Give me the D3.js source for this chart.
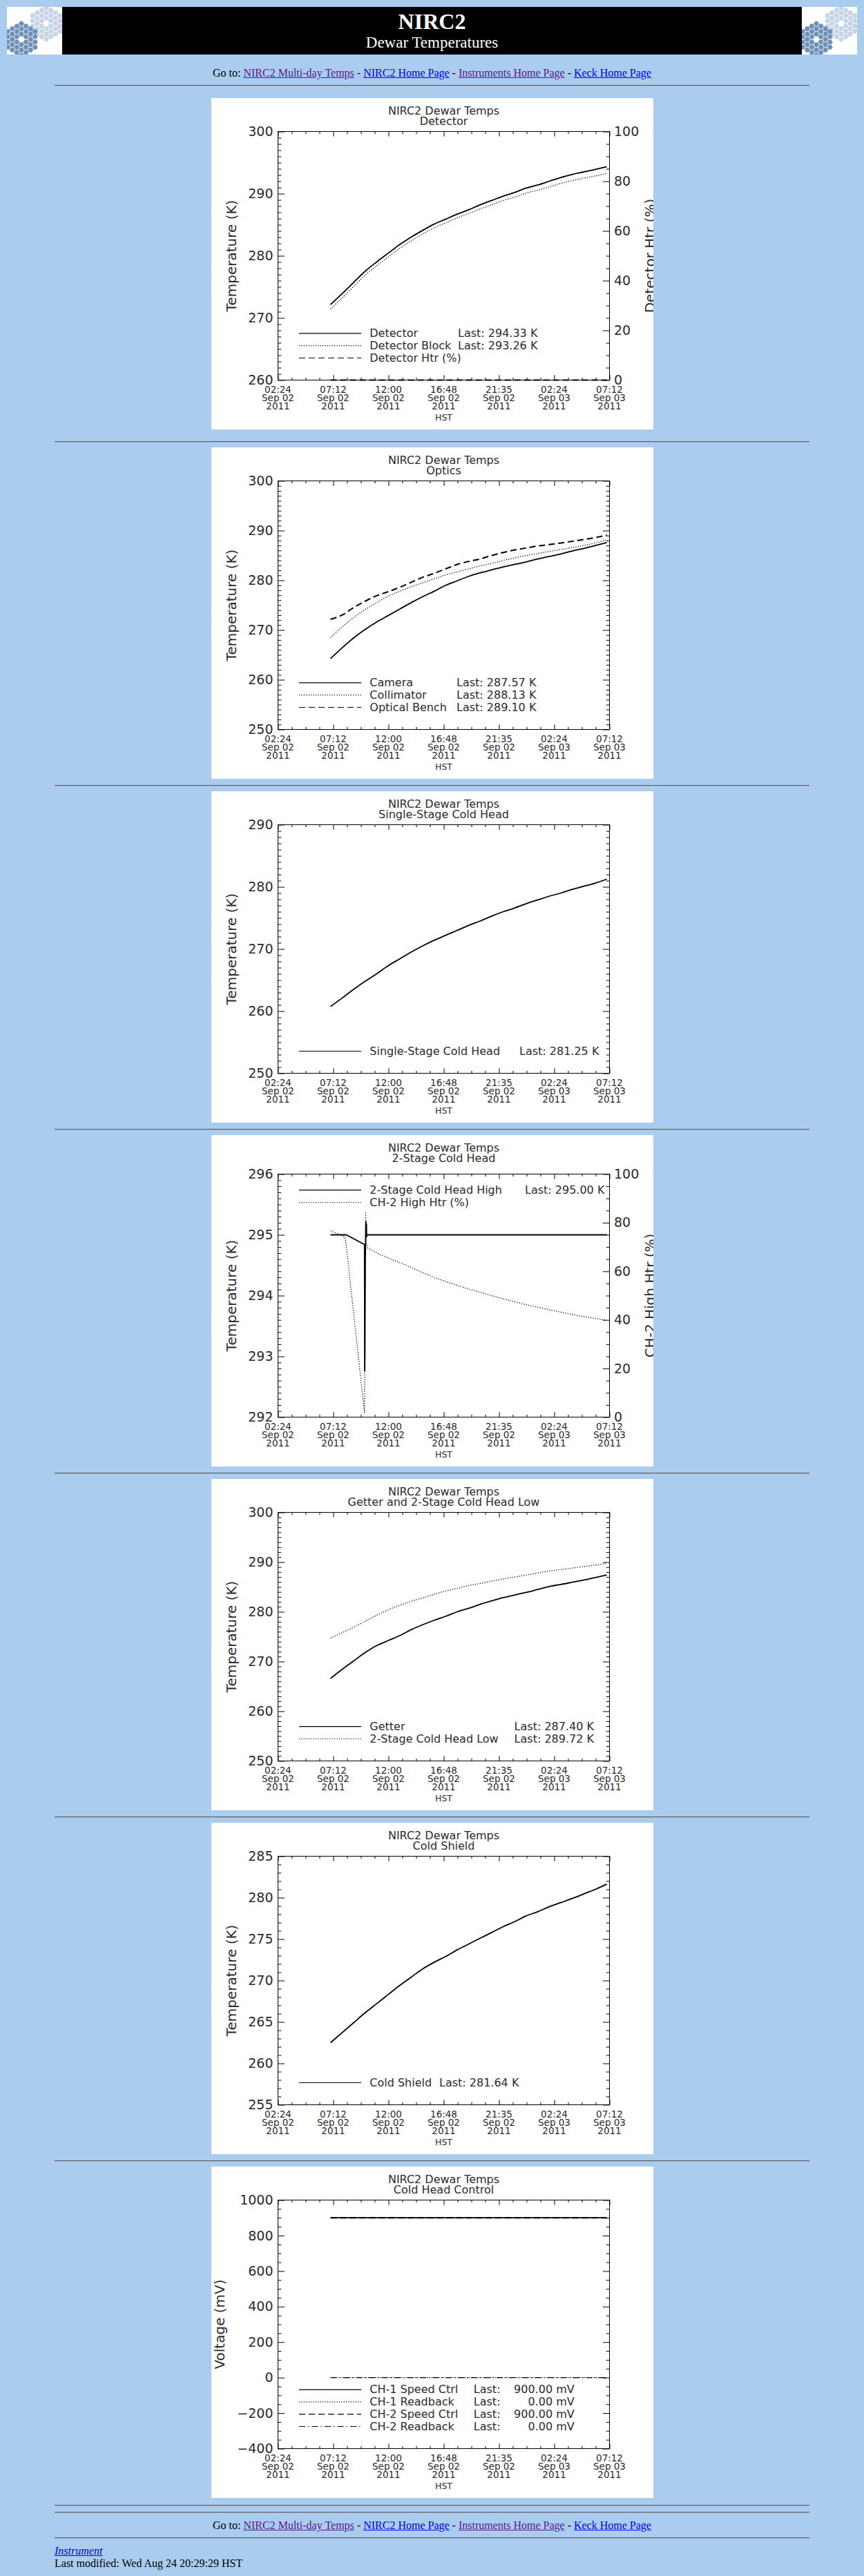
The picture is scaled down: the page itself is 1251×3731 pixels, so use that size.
<!DOCTYPE html>
<html lang="en">
<head>
<meta charset="utf-8">
<title>NIRC2 Dewar Temperatures</title>
<script src="https://cdn.jsdelivr.net/npm/d3@7"></script>
<style>
  body { margin: 0; background: #aaccee; font-family: "Liberation Serif", "Times New Roman", serif; font-size: 16px; color: #000; }
  #header { display: flex; height: 69px; margin: 10px 10px 0; }
  .logo { flex: none; width: 80px; height: 69px; }
  .logo svg { display: block; }
  #banner { flex: 1; background: #000; color: #fff; position: relative; text-align: center; }
  #banner .t1 { position: absolute; left: 0; right: 0; top: 4.9px; font: bold 32px/32px "Liberation Serif", serif; }
  #banner .t2 { position: absolute; left: 0; right: 0; top: 39.7px; font: 23px/23px "Liberation Serif", serif; }
  .goto { margin: 0; text-align: center; line-height: 18px; }
  a { color: #0000ee; }
  a.seen { color: #551a8b; }
  hr { width: 1093px; height: 0; border: 0; border-top: 1px solid #5b5b5b; border-bottom: 1px solid #a3b6cb; margin: 0 auto; }
  .panel { width: 640px; height: 480px; margin: 0 auto; }
  .panel svg { display: block; background: #fff; overflow: hidden; }
  .panel svg text { fill: #2b2b2b; }
  #footer { width: 1093px; margin: 0 auto; line-height: 18px; }
</style>
</head>
<body>
<div id="header">
  <div class="logo" id="logoL"></div>
  <div id="banner"><div class="t1">NIRC2</div><div class="t2">Dewar Temperatures</div></div>
  <div class="logo" id="logoR"></div>
</div>
<p class="goto" style="margin-top:18.3px">Go to: <a class="seen" href="#">NIRC2 Multi-day Temps</a> - <a href="#">NIRC2 Home Page</a> - <a class="seen" href="#">Instruments Home Page</a> - <a href="#">Keck Home Page</a></p>
<hr style="margin-top:8.2px">
<div class="panel" id="c1" style="margin-top:16.2px"></div>
<hr style="margin-top:17px">
<div class="panel" id="c2" style="margin-top:7.6px"></div>
<hr style="margin-top:9px">
<div class="panel" id="c3" style="margin-top:7px"></div>
<hr style="margin-top:9px">
<div class="panel" id="c4" style="margin-top:7px"></div>
<hr style="margin-top:9px">
<div class="panel" id="c5" style="margin-top:7px"></div>
<hr style="margin-top:9px">
<div class="panel" id="c6" style="margin-top:7px"></div>
<hr style="margin-top:9px">
<div class="panel" id="c7" style="margin-top:7px"></div>
<hr style="margin-top:9.4px">
<hr style="margin-top:8px">
<p class="goto" style="margin-top:9.2px">Go to: <a class="seen" href="#">NIRC2 Multi-day Temps</a> - <a href="#">NIRC2 Home Page</a> - <a class="seen" href="#">Instruments Home Page</a> - <a href="#">Keck Home Page</a></p>
<hr style="margin-top:8.1px">
<div id="footer" style="margin-top:8.6px"><a href="#"><i>Instrument</i></a><br>Last modified: Wed Aug 24 20:29:29 HST</div>

<script>
// ---- data -------------------------------------------------------------
const xDomain = ["2011-09-02 02:24", "2011-09-03 07:12"];
const xTickTimes = ["2011-09-02 02:24", "2011-09-02 07:12", "2011-09-02 12:00", "2011-09-02 16:48",
                    "2011-09-02 21:36", "2011-09-03 02:24", "2011-09-03 07:12"];
const xTickLabels = [["02:24", "Sep 02", "2011"], ["07:12", "Sep 02", "2011"], ["12:00", "Sep 02", "2011"],
                     ["16:48", "Sep 02", "2011"], ["21:35", "Sep 02", "2011"], ["02:24", "Sep 03", "2011"],
                     ["07:12", "Sep 03", "2011"]];

const hourTimes = ["2011-09-02 06:58", "2011-09-02 07:58", "2011-09-02 08:58", "2011-09-02 09:58",
                   "2011-09-02 10:58", "2011-09-02 11:58", "2011-09-02 12:58", "2011-09-02 13:58",
                   "2011-09-02 14:58", "2011-09-02 15:58", "2011-09-02 16:58", "2011-09-02 17:58",
                   "2011-09-02 18:58", "2011-09-02 19:58", "2011-09-02 20:58", "2011-09-02 21:58",
                   "2011-09-02 22:58", "2011-09-02 23:58", "2011-09-03 00:58", "2011-09-03 01:58",
                   "2011-09-03 02:58", "2011-09-03 03:58", "2011-09-03 04:58", "2011-09-03 05:58",
                   "2011-09-03 06:58"];
const spanTimes = ["2011-09-02 06:58", "2011-09-03 06:58"];

const detector      = [272.15, 273.9, 275.7, 277.5, 279.0, 280.4, 281.8, 283.0, 284.1, 285.1, 285.9, 286.7, 287.4,
                       288.2, 288.9, 289.6, 290.2, 290.9, 291.4, 292.0, 292.6, 293.1, 293.5, 293.9, 294.33];
const detectorBlock = [271.4, 273.2, 275.05, 276.9, 278.4, 279.8, 281.2, 282.4, 283.5, 284.5, 285.3, 286.1, 286.8,
                       287.55, 288.2, 288.9, 289.45, 290.1, 290.55, 291.1, 291.65, 292.1, 292.5, 292.85, 293.26];
const detectorHtr   = [0, 0];

const camera       = [264.25, 266.4, 268.4, 270.1, 271.6, 272.9, 274.2, 275.5, 276.7, 277.8, 279.0, 279.9, 280.8,
                      281.5, 282.1, 282.7, 283.2, 283.7, 284.3, 284.8, 285.3, 285.9, 286.4, 287.0, 287.57];
const collimator   = [268.5, 270.6, 272.5, 274.1, 275.5, 276.8, 277.8, 278.7, 279.5, 280.3, 281.1, 281.7, 282.3,
                      282.9, 283.4, 284.0, 284.5, 285.0, 285.4, 285.8, 286.2, 286.6, 287.0, 287.5, 288.13];
const opticalBench = [272.15, 273.0, 274.5, 275.8, 276.9, 277.7, 278.6, 279.6, 280.6, 281.4, 282.3, 283.2, 283.8,
                      284.3, 285.0, 285.6, 286.1, 286.5, 286.9, 287.2, 287.5, 287.85, 288.2, 288.6, 289.10];

const singleStage = [260.75, 262.1, 263.5, 264.8, 266.0, 267.3, 268.4, 269.5, 270.5, 271.4, 272.2, 273.0, 273.8,
                     274.5, 275.3, 276.0, 276.6, 277.3, 277.9, 278.5, 279.0, 279.6, 280.1, 280.6, 281.25];

const twoStageHighTimes = ["2011-09-02 06:58", "2011-09-02 08:20", "2011-09-02 09:55", "2011-09-02 09:56",
                           "2011-09-02 09:57", "2011-09-02 09:59", "2011-09-02 10:00", "2011-09-02 10:02",
                           "2011-09-02 10:03", "2011-09-02 10:05", "2011-09-02 10:06", "2011-09-02 10:09",
                           "2011-09-03 06:58"];
const twoStageHigh = [295.00, 295.00, 294.84, 292.76, 293.00, 294.65, 294.68, 295.22, 295.05, 295.18, 294.97,
                      295.00, 295.00];
const ch2HtrTimes = ["2011-09-02 06:58", "2011-09-02 08:15", "2011-09-02 09:55", "2011-09-02 10:01",
                     "2011-09-02 10:04", "2011-09-02 10:12", "2011-09-02 11:13", "2011-09-02 12:28",
                     "2011-09-02 13:43", "2011-09-02 14:57", "2011-09-02 16:12", "2011-09-02 17:26",
                     "2011-09-02 18:41", "2011-09-02 19:56", "2011-09-02 21:10", "2011-09-02 22:25",
                     "2011-09-02 23:40", "2011-09-03 00:54", "2011-09-03 02:09", "2011-09-03 03:23",
                     "2011-09-03 04:38", "2011-09-03 05:53", "2011-09-03 06:58"];
const ch2Htr = [76.7, 74.0, 1.8, 84.0, 72.0, 69.6, 67.0, 64.5, 62.1, 59.5, 57.1, 55.0, 53.1, 51.4, 49.7, 48.1,
                46.6, 45.3, 44.0, 42.8, 41.6, 40.7, 39.8];

const getter      = [266.6, 268.4, 270.1, 271.8, 273.2, 274.2, 275.2, 276.4, 277.4, 278.3, 279.1, 280.0, 280.7,
                     281.5, 282.2, 282.85, 283.4, 283.9, 284.5, 285.1, 285.5, 285.95, 286.4, 286.9, 287.40];
const twoStageLow = [274.75, 275.8, 276.9, 278.1, 279.3, 280.4, 281.3, 282.1, 282.8, 283.5, 284.2, 284.7, 285.3,
                     285.7, 286.2, 286.6, 287.0, 287.4, 287.8, 288.2, 288.5, 288.8, 289.1, 289.4, 289.72];

const coldShield = [262.5, 263.7, 264.9, 266.1, 267.2, 268.3, 269.4, 270.4, 271.4, 272.2, 272.9, 273.7, 274.4,
                    275.1, 275.8, 276.5, 277.1, 277.8, 278.3, 278.9, 279.4, 279.9, 280.45, 281.0, 281.64];

const ch1Speed    = [900, 900];
const ch1Readback = [0, 0];
const ch2Speed    = [900, 900];
const ch2Readback = [0, 0];

// ---- drawing ------------------------------------------------------------
const parse = d3.timeParse("%Y-%m-%d %H:%M");
const W = 640, H = 480;
const X0 = 96.5, X1 = 576.5, YB = 408.5;
const FONT = "'DejaVu Sans', Verdana, sans-serif";
const DASH = {solid: null, dotted: "1.2,2.2", dashed: "9,5", dashdot: "9,4,1.5,4"};
const WIDTH = {solid: 1.8, dotted: 1.3, dashed: 2, dashdot: 1.3};
const fmt2 = d3.format(".2f");

function drawLogo(id) {
    const svg = d3.select(id).append("svg").attr("width", 80).attr("height", 69).style("background", "#fff");
    const s = 4.4;
    const cells = [];
    for (let q = -3; q <= 3; q++) {
        for (let r = -3; r <= 3; r++) {
            const z = -q - r;
            if (Math.max(Math.abs(q), Math.abs(r), Math.abs(z)) <= 3 && (q || r)) cells.push([q, r]);
        }
    }
    const hex = d3.range(6).map(k => [0.9 * s * Math.cos(k * Math.PI / 3), 0.9 * s * Math.sin(k * Math.PI / 3)]);
    [[57, 24, "#c6d4e6"], [21, 47, "#6f90b8"]].forEach(([cx, cy, c]) => {
        svg.append("g").selectAll("polygon").data(cells).join("polygon")
            .attr("points", ([q, r]) => hex.map(([px, py]) =>
                [cx + 1.5 * s * q + px, cy + Math.sqrt(3) * s * (r + q / 2) + py].join(",")).join(" "))
            .attr("fill", c);
    });
}

function ticksFor(domain, step, minor) {
    const n = Math.round((domain[1] - domain[0]) / minor);
    const every = Math.round(step / minor);
    const all = d3.range(n + 1).map(k => ({v: domain[0] + k * minor, major: k % every === 0}));
    return [all.filter(d => d.major).map(d => d.v), all.filter(d => !d.major).map(d => d.v)];
}

function drawChart(id, cfg) {
    const top = cfg.top || 48.5;
    const svg = d3.select(id).append("svg").attr("width", W).attr("height", H).attr("font-family", FONT);
    const x = d3.scaleTime().domain(xDomain.map(parse)).range([X0, X1]);
    const y = d3.scaleLinear().domain(cfg.y.domain).range([YB, top]);
    const y2 = cfg.y2 ? d3.scaleLinear().domain(cfg.y2.domain).range([YB, top]) : null;

    const addAxis = (gen, tr, size) => svg.append("g").attr("transform", tr).call(gen)
        .call(g => g.select(".domain").remove())
        .attr("font-family", null).attr("font-size", null)
        .call(g => g.selectAll("text").attr("font-size", size || 19));

    // title
    svg.append("text").attr("x", (X0 + X1) / 2).attr("y", 24).attr("text-anchor", "middle")
        .attr("font-size", 16).text("NIRC2 Dewar Temps");
    svg.append("text").attr("x", (X0 + X1) / 2).attr("y", 38.5).attr("text-anchor", "middle")
        .attr("font-size", 16).text(cfg.title);

    // series
    cfg.series.forEach(s => {
        const sc = s.axis === "y2" ? y2 : y;
        const pts = s.times.map((t, i) => [parse(t), s.values[i]]);
        svg.append("path").datum(pts)
            .attr("fill", "none").attr("stroke", "#000")
            .attr("stroke-width", WIDTH[s.style]).attr("stroke-dasharray", DASH[s.style])
            .attr("stroke-linejoin", "round")
            .attr("d", d3.line().x(d => x(d[0])).y(d => sc(d[1]))
                .curve(cfg.sharp ? d3.curveLinear : d3.curveMonotoneX));
    });

    // x axes (bottom and top)
    const majors = xTickTimes.map(parse);
    const minors = [];
    majors.slice(0, -1).forEach((d, i) => {
        const step = (majors[i + 1] - d) / 4;
        for (let k = 1; k < 4; k++) minors.push(new Date(+d + k * step));
    });
    addAxis(d3.axisBottom(x).tickValues(majors).tickSize(-7.2).tickFormat(""), `translate(0,${YB})`);
    addAxis(d3.axisBottom(x).tickValues(minors).tickSize(-3.6).tickFormat(""), `translate(0,${YB})`);
    addAxis(d3.axisTop(x).tickValues(majors).tickSize(-7.2).tickFormat(""), `translate(0,${top})`);
    addAxis(d3.axisTop(x).tickValues(minors).tickSize(-3.6).tickFormat(""), `translate(0,${top})`);

    svg.append("g").selectAll("text").data(majors).join("text")
        .attr("text-anchor", "middle").attr("font-size", 13.5)
        .each(function(d, i) {
            const t = d3.select(this);
            xTickLabels[i].forEach((s, k) => t.append("tspan").attr("x", x(d)).attr("y", 427 + 12 * k).text(s));
        });
    svg.append("text").attr("x", (X0 + X1) / 2).attr("y", 467).attr("text-anchor", "middle")
        .attr("font-size", 12.5).text("HST");

    // left axis
    const [yMaj, yMin] = ticksFor(cfg.y.domain, cfg.y.step, cfg.y.minor);
    addAxis(d3.axisLeft(y).tickValues(yMaj).tickSize(-9.6).tickPadding(7).tickFormat(d3.format("d")),
        `translate(${X0},0)`);
    addAxis(d3.axisLeft(y).tickValues(yMin).tickSize(-4.8).tickFormat(""), `translate(${X0},0)`);
    svg.append("text")
        .attr("transform", `translate(${cfg.yTitleX || 35.5},${(top + YB) / 2}) rotate(-90)`)
        .attr("text-anchor", "middle").attr("font-size", 20).text(cfg.y.title);

    // right axis (the Htr title is cut by the image edge, as in the original plot)
    if (y2) {
        const [rMaj, rMin] = ticksFor(cfg.y2.domain, cfg.y2.step, cfg.y2.minor);
        addAxis(d3.axisRight(y2).tickValues(rMaj).tickSize(-9.6).tickPadding(6.5).tickFormat(d3.format("d")),
            `translate(${X1},0)`);
        addAxis(d3.axisRight(y2).tickValues(rMin).tickSize(-4.8).tickFormat(""), `translate(${X1},0)`);
        svg.append("text")
            .attr("transform", `translate(642,${(top + YB) / 2}) rotate(-90)`)
            .attr("text-anchor", "middle").attr("font-size", 20).text(cfg.y2.title);
    } else {
        addAxis(d3.axisRight(y).tickValues(yMaj).tickSize(-9.6).tickFormat(""), `translate(${X1},0)`);
        addAxis(d3.axisRight(y).tickValues(yMin).tickSize(-4.8).tickFormat(""), `translate(${X1},0)`);
    }

    svg.append("rect").attr("x", X0).attr("y", top).attr("width", X1 - X0).attr("height", YB - top)
        .attr("fill", "none").attr("stroke", "#000");

    // legend
    const n = cfg.series.length;
    cfg.series.forEach((s, i) => {
        const by = cfg.legendTop ? 84.7 + i * 17.8 : 381.5 - (n - 1 - i) * 17.8;
        svg.append("line").attr("x1", 127).attr("x2", 217).attr("y1", by - 5).attr("y2", by - 5)
            .attr("stroke", "#000").attr("stroke-width", 1.2).attr("stroke-dasharray", DASH[s.style]);
        svg.append("text").attr("x", 229.3).attr("y", by).attr("font-size", 16).text(s.name);
        if (!s.last) return;
        const v = fmt2(s.values[s.values.length - 1]) + " " + cfg.unit;
        if (cfg.valueEnd) {
            svg.append("text").attr("x", cfg.lastX).attr("y", by).attr("font-size", 16).text("Last:");
            svg.append("text").attr("x", cfg.valueEnd).attr("y", by).attr("font-size", 16)
                .attr("text-anchor", "end").text(v);
        } else {
            svg.append("text").attr("x", cfg.lastX).attr("y", by).attr("font-size", 16).text("Last: " + v);
        }
    });
}

drawLogo("#logoL");
drawLogo("#logoR");

const tempAxis = (domain, step, minor) => ({domain, step, minor, title: "Temperature (K)"});

drawChart("#c1", {
    title: "Detector", unit: "K", lastX: 357,
    y: tempAxis([260, 300], 10, 1),
    y2: {domain: [0, 100], step: 20, minor: 5, title: "Detector Htr (%)"},
    series: [
        {name: "Detector", times: hourTimes, values: detector, style: "solid", last: true},
        {name: "Detector Block", times: hourTimes, values: detectorBlock, style: "dotted", last: true},
        {name: "Detector Htr (%)", times: spanTimes, values: detectorHtr, style: "dashed", axis: "y2"}
    ]
});

drawChart("#c2", {
    title: "Optics", unit: "K", lastX: 355,
    y: tempAxis([250, 300], 10, 1),
    series: [
        {name: "Camera", times: hourTimes, values: camera, style: "solid", last: true},
        {name: "Collimator", times: hourTimes, values: collimator, style: "dotted", last: true},
        {name: "Optical Bench", times: hourTimes, values: opticalBench, style: "dashed", last: true}
    ]
});

drawChart("#c3", {
    title: "Single-Stage Cold Head", unit: "K", lastX: 446,
    y: tempAxis([250, 290], 10, 1),
    series: [
        {name: "Single-Stage Cold Head", times: hourTimes, values: singleStage, style: "solid", last: true}
    ]
});

drawChart("#c4", {
    title: "2-Stage Cold Head", unit: "K", lastX: 454, top: 56.5, legendTop: true, sharp: true,
    y: tempAxis([292, 296], 1, 0.1),
    y2: {domain: [0, 100], step: 20, minor: 5, title: "CH-2 High Htr (%)"},
    series: [
        {name: "2-Stage Cold Head High", times: twoStageHighTimes, values: twoStageHigh, style: "solid", last: true},
        {name: "CH-2 High Htr (%)", times: ch2HtrTimes, values: ch2Htr, style: "dotted", axis: "y2"}
    ]
});

drawChart("#c5", {
    title: "Getter and 2-Stage Cold Head Low", unit: "K", lastX: 438.6,
    y: tempAxis([250, 300], 10, 1),
    series: [
        {name: "Getter", times: hourTimes, values: getter, style: "solid", last: true},
        {name: "2-Stage Cold Head Low", times: hourTimes, values: twoStageLow, style: "dotted", last: true}
    ]
});

drawChart("#c6", {
    title: "Cold Shield", unit: "K", lastX: 330,
    y: tempAxis([255, 285], 5, 1),
    series: [
        {name: "Cold Shield", times: hourTimes, values: coldShield, style: "solid", last: true}
    ]
});

drawChart("#c7", {
    title: "Cold Head Control", unit: "mV", lastX: 379.8, valueEnd: 525.7, yTitleX: 18.8, sharp: true,
    y: {domain: [-400, 1000], step: 200, minor: 50, title: "Voltage (mV)"},
    series: [
        {name: "CH-1 Speed Ctrl", times: spanTimes, values: ch1Speed, style: "solid", last: true},
        {name: "CH-1 Readback", times: spanTimes, values: ch1Readback, style: "dotted", last: true},
        {name: "CH-2 Speed Ctrl", times: spanTimes, values: ch2Speed, style: "dashed", last: true},
        {name: "CH-2 Readback", times: spanTimes, values: ch2Readback, style: "dashdot", last: true}
    ]
});
</script>
</body>
</html>
